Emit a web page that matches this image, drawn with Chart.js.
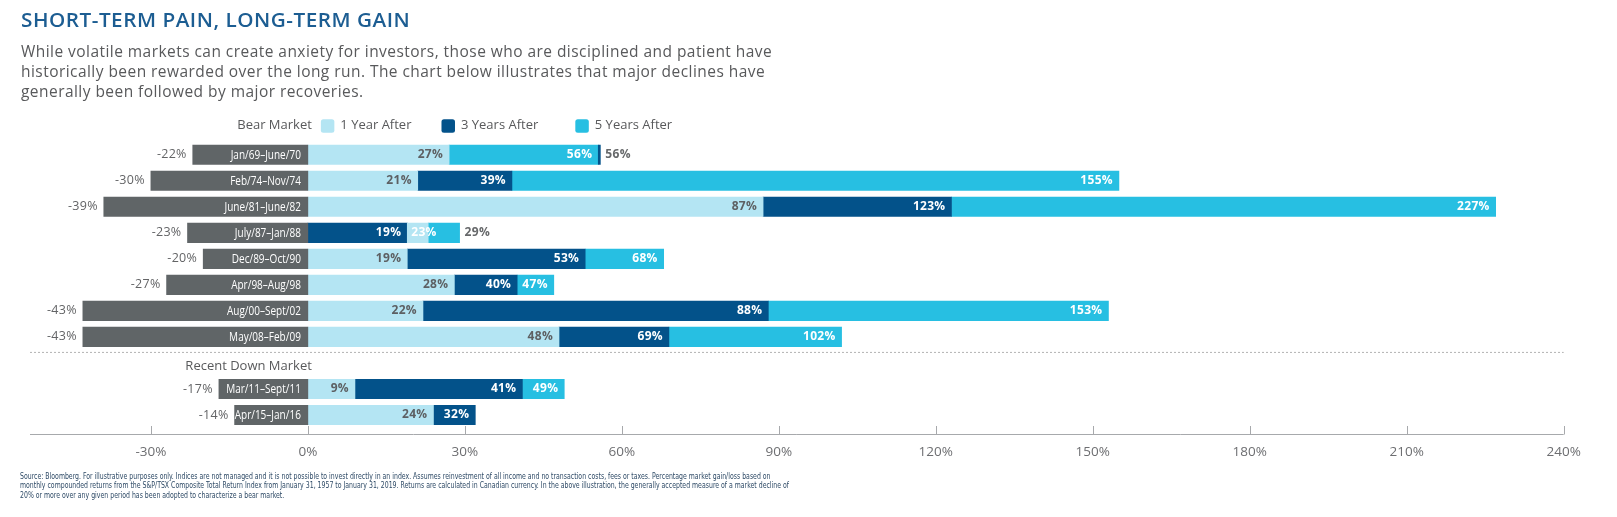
<!DOCTYPE html>
<html lang="en">
<head>
    <meta charset="UTF-8">
    <title>Short-Term Pain, Long-Term Gain</title>
    <style>
        html, body { margin: 0; padding: 0; background: #fff; }
        body { width: 1617px; height: 517px; position: relative; overflow: hidden; font-family: "Open Sans", sans-serif; }
        #chart { position: absolute; left: 0; top: 0; }
        h1 { position: absolute; left: 21px; top: 10px; margin: 0; font-size: 20px; line-height: 1; font-weight: 600; letter-spacing: 0.5px; color: #1c5d92; white-space: nowrap; transform: scaleX(1.035); transform-origin: left top; }
        .intro { position: absolute; left: 21px; top: 41px; margin: 0; font-size: 15.5px; line-height: 20px; letter-spacing: 0.45px; color: #58595b; white-space: nowrap; }
        .note { position: absolute; left: 20px; top: 470.5px; margin: 0; font-family: "Liberation Sans Narrow", "DejaVu Sans Condensed", sans-serif; font-size: 9.5px; line-height: 9.6px; color: #2e4a66; white-space: nowrap; transform: scaleX(0.725); transform-origin: left top; }
    </style>
</head>

<body>
    <canvas id="chart" width="1617" height="517"></canvas>
    <h1>SHORT-TERM PAIN, LONG-TERM GAIN</h1>
    <p class="intro">While volatile markets can create anxiety for investors, those who are disciplined and patient have<br>historically been rewarded over the long run. The chart below illustrates that major declines have<br>generally been followed by major recoveries.</p>
    <p class="note">Source: Bloomberg. For illustrative purposes only. Indices are not managed and it is not possible to invest directly in an index. Assumes reinvestment of all income and no transaction costs, fees or taxes. Percentage market gain/loss based on<br>monthly compounded returns from the S&amp;P/TSX Composite Total Return Index from January 31, 1957 to January 31, 2019. Returns are calculated in Canadian currency. In the above illustration, the generally accepted measure of a market decline of<br>20% or more over any given period has been adopted to characterize a bear market.</p>

    <script src="https://cdn.jsdelivr.net/npm/chart.js"></script>
    <script>
        // dados (linha vazia = separador antes de "Recent Down Market")
        const periods = ['Jan/69–June/70', 'Feb/74–Nov/74', 'June/81–June/82', 'July/87–Jan/88', 'Dec/89–Oct/90',
            'Apr/98–Aug/98', 'Aug/00–Sept/02', 'May/08–Feb/09', '', 'Mar/11–Sept/11', 'Apr/15–Jan/16'];
        const bearMarket = [-22, -30, -39, -23, -20, -27, -43, -43, null, -17, -14];
        const oneYearAfter = [27, 21, 87, 23, 19, 28, 22, 48, null, 9, 24];
        const threeYearsAfter = [55.9, 39, 123, 19, 53, 40, 88, 69, null, 41, 32];
        const fiveYearsAfter = [55.5, 155, 227, 29, 68, 47, 153, 102, null, 49, null];
        const xTicks = [-30, 0, 30, 60, 90, 120, 150, 180, 210, 240];
        const seriesNames = ['Bear Market', '1 Year After', '3 Years After', '5 Years After'];
        const gapLabel = 'Recent Down Market';

        const colors = ['#606567', '#b4e5f3', '#03528a', '#27bfe2'];
        const afterSeries = [oneYearAfter, threeYearsAfter, fiveYearsAfter];

        // each segment starts where the next smaller value of the same row ends
        function floating(series) {
            return series.map((v, i) => {
                if (v == null) return null;
                let start = 0;
                afterSeries.forEach(s => {
                    const o = s[i];
                    if (o != null && o < v && o > start) start = o;
                });
                return [start, v];
            });
        }

        const labelPlugin = {
            id: 'barLabels',
            afterDatasetsDraw(chart) {
                const { ctx, chartArea, scales: { x, y } } = chart;
                const x0 = x.getPixelForValue(0);
                ctx.save();
                ctx.textBaseline = 'middle';

                periods.forEach((p, i) => {
                    if (bearMarket[i] == null) return;
                    const yc = y.getPixelForValue(i);

                    // data dentro da barra cinza (fonte estreita)
                    ctx.textAlign = 'right';
                    ctx.letterSpacing = '0px';
                    ctx.font = '13px "Open Sans", sans-serif';
                    ctx.fillStyle = '#ffffff';
                    ctx.fillText(p, x0 - 7, yc + 0.5, ctx.measureText(p).width * 0.77);

                    ctx.font = '12.5px "Open Sans", sans-serif';
                    ctx.letterSpacing = '0.3px';
                    ctx.fillStyle = '#636466';
                    ctx.fillText(bearMarket[i] + '%', x.getPixelForValue(bearMarket[i]) - 6, yc);

                    chart.data.datasets.slice(1).forEach((ds, k) => {
                        const seg = ds.data[i];
                        if (!seg) return;
                        const xs = x.getPixelForValue(seg[0]);
                        const xe = x.getPixelForValue(seg[1]);
                        const txt = Math.round(seg[1]) + '%';
                        ctx.font = 'bold 12px "Open Sans", sans-serif';
                        const w = ctx.measureText(txt).width;
                        const outer = afterSeries.every(s => s[i] == null || s[i] <= seg[1]);
                        if (xe - xs >= w + 10) {
                            ctx.textAlign = 'right';
                            ctx.fillStyle = k === 0 ? '#5d6063' : '#ffffff';
                            ctx.fillText(txt, xe - 6, yc);
                        } else if (outer) {
                            ctx.textAlign = 'left';
                            ctx.fillStyle = '#66686a';
                            ctx.fillText(txt, xe + 5, yc);
                        } else {
                            ctx.textAlign = 'left';
                            ctx.fillStyle = '#ffffff';
                            ctx.fillText(txt, xs + 4, yc);
                        }
                    });
                });

                // separador pontilhado + "Recent Down Market"
                const gap = periods.indexOf('');
                const ySep = (y.getPixelForValue(gap - 1) + y.getPixelForValue(gap)) / 2 + 2;
                ctx.strokeStyle = '#b3b3b3';
                ctx.lineWidth = 1;
                ctx.setLineDash([2, 2]);
                ctx.beginPath();
                ctx.moveTo(chartArea.left, ySep + 0.5);
                ctx.lineTo(chartArea.right, ySep + 0.5);
                ctx.stroke();
                ctx.setLineDash([]);

                ctx.font = '13px "Open Sans", sans-serif';
                ctx.letterSpacing = '0px';
                ctx.fillStyle = '#58595b';
                ctx.textAlign = 'right';
                ctx.fillText(gapLabel, x0 + 4, y.getPixelForValue(gap) + 3);

                // legenda
                const yl = chartArea.top - 16;
                ctx.fillText(seriesNames[0], x0 + 4, yl);
                let lx = x0 + 13;
                ctx.textAlign = 'left';
                for (let k = 1; k < seriesNames.length; k++) {
                    ctx.fillStyle = colors[k];
                    ctx.beginPath();
                    ctx.roundRect(lx, yl - 6.5, 13.5, 13.5, 2.5);
                    ctx.fill();
                    ctx.fillStyle = '#58595b';
                    ctx.fillText(seriesNames[k], lx + 19.5, yl);
                    lx += 19.5 + ctx.measureText(seriesNames[k]).width + (k === 1 ? 30 : 37);
                }

                // eixo x com marcas para cima
                const ya = chartArea.bottom + 6.5;
                ctx.strokeStyle = '#a7a9ac';
                ctx.beginPath();
                ctx.moveTo(chartArea.left, ya);
                ctx.lineTo(chartArea.right, ya);
                xTicks.forEach(v => {
                    const px = Math.round(x.getPixelForValue(v)) + 0.5;
                    ctx.moveTo(px, ya);
                    ctx.lineTo(px, ya - 8.5);
                });
                ctx.stroke();
                ctx.restore();
            }
        };

        const ctx = document.getElementById('chart').getContext('2d');
        const chart = new Chart(ctx, {
            type: 'bar',
            data: {
                labels: periods,
                datasets: [
                    { label: seriesNames[0], data: bearMarket.map(v => v == null ? null : [v, 0]), backgroundColor: colors[0] },
                    { label: seriesNames[1], data: floating(oneYearAfter), backgroundColor: colors[1] },
                    { label: seriesNames[2], data: floating(threeYearsAfter), backgroundColor: colors[2] },
                    { label: seriesNames[3], data: floating(fiveYearsAfter), backgroundColor: colors[3] }
                ].map(d => Object.assign(d, { grouped: false, barThickness: 19.5, borderWidth: 0 }))
            },
            options: {
                responsive: false,
                animation: false,
                indexAxis: 'y',
                layout: { padding: { left: 30, right: 53.3, top: 141.7, bottom: 40.8 } },
                plugins: { legend: { display: false }, tooltip: { enabled: false } },
                scales: {
                    x: {
                        type: 'linear',
                        min: -53.1,
                        max: 240,
                        grid: { display: false, drawTicks: false },
                        border: { display: false },
                        afterBuildTicks: s => { s.ticks = xTicks.map(v => ({ value: v })); },
                        ticks: {
                            padding: 16,
                            color: '#6d6e71',
                            font: { family: 'Open Sans', size: 13.5 },
                            callback: v => v + '%'
                        }
                    },
                    y: { type: 'category', display: false, offset: true, grid: { display: false } }
                }
            },
            plugins: [labelPlugin]
        });
    </script>
</body>

</html>
